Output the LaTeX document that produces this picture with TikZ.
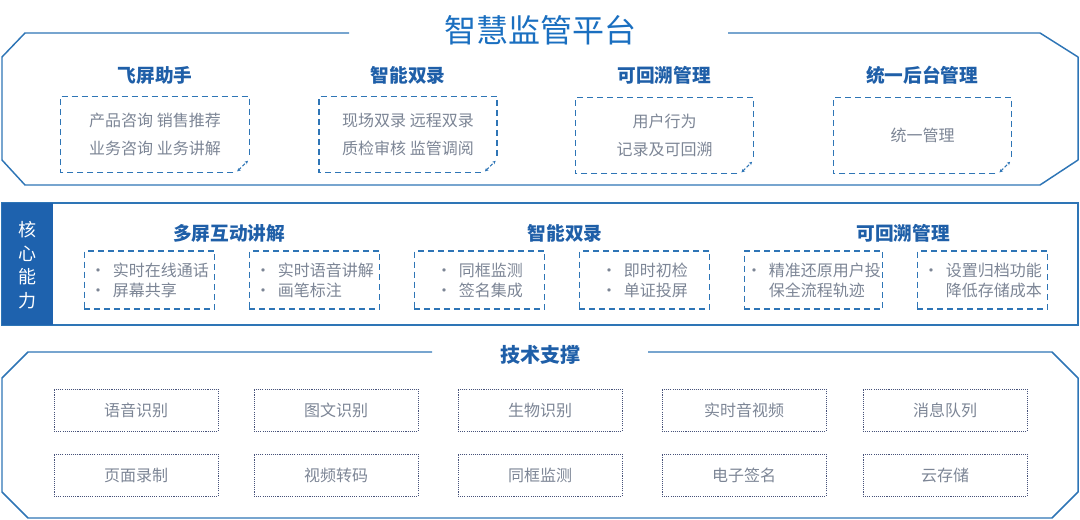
\documentclass[tikz,border=0pt]{standalone}
\usepackage{fontspec}
\setmainfont{Noto Sans CJK SC}
\usetikzlibrary{arrows.meta}

\definecolor{frameblue}{HTML}{2E75B6}
\definecolor{headblue}{HTML}{1F5FA8}
\definecolor{titleblue}{HTML}{1A6FC0}
\definecolor{textgray}{HTML}{7C8595}
\definecolor{dotnavy}{HTML}{47527A}
\definecolor{sideblue}{HTML}{1E62AE}

\newcommand{\blt}{\makebox[17pt][l]{\textbullet}}
\newcommand{\bltgap}{\makebox[17pt][l]{}}

\tikzset{
  frameline/.style={draw=frameblue, line width=1.1pt, line join=round},
  bigtitle/.style={text=titleblue, font=\fontsize{24}{26}\selectfont},
  heading/.style={text=headblue, font=\fontsize{14}{16}\selectfont\bfseries},
  topbox/.style={minimum width=133pt, minimum height=57pt, inner sep=0pt,
    text=textgray, align=center, font=\fontsize{12}{21}\selectfont},
  dashline/.style={draw=frameblue, line width=0.9pt, dash pattern=on 4.5pt off 3pt},
  foldmark/.style={draw=frameblue, line width=0.8pt, dash pattern=on 2.5pt off 1.5pt,
    {Stealth[length=2.5pt,width=2.5pt]}-{Stealth[length=2.5pt,width=2.5pt]}},
  midbox/.style={dashline, minimum width=98pt, minimum height=43.5pt, inner sep=0pt,
    text=textgray, align=left, font=\fontsize{12}{15}\selectfont},
  sidetext/.style={text=white, align=center, font=\fontsize{13.5}{17.6}\selectfont},
  techbox/.style={draw=dotnavy, line width=0.7pt, dash pattern=on 0.8pt off 0.8pt,
    minimum width=123pt, minimum height=31.5pt, inner sep=0pt,
    text=textgray, font=\fontsize{12}{14}\selectfont},
}

\begin{document}
\begin{tikzpicture}[x=0.75pt, y=-0.75pt]
    \useasboundingbox (0,0) rectangle (1080,520);

    % platform frame
    \node[bigtitle] (title) at (540,30) {智慧监管平台};
    \coordinate (tl) at (349,33);
    \coordinate (tr) at (728,33);
    \draw[frameline] (tl) -- (25,33) -- (2,57) -- (2,160) -- (25,185) -- (1040,185)
        -- (1078,160) -- (1078,57) -- (1040,33) -- (tr);

    \node[heading] (h1) at (155,75) {飞屏助手};
    \node[heading] (h2) at (408,75) {智能双录};
    \node[heading] (h3) at (664,75) {可回溯管理};
    \node[heading] (h4) at (922,75) {统一后台管理};

    \node[topbox, minimum width=141pt] (fp) at (155,134.5) {产品咨询 销售推荐\\业务咨询 业务讲解};
    \node[topbox] (zs) at (408,134.5) {现场双录 远程双录\\质检审核 监管调阅};
    \node[topbox] (kh) at (664.5,135.5) {用户行为\\记录及可回溯};
    \node[topbox] (ty) at (922.5,135.5) {统一管理};
    \foreach \b in {fp,zs,kh,ty}{
        \draw[dashline] ([xshift=-12pt]\b.south east) -- (\b.south west) -- (\b.north west)
            -- (\b.north east) -- ([yshift=11pt]\b.south east);
        \draw[foldmark] ([xshift=-9pt,yshift=1pt]\b.south east) -- ([xshift=-1pt,yshift=9pt]\b.south east);
    }

    % core abilities
    \draw[frameline, line join=miter] (2,203) rectangle (1078,325);
    \fill[sideblue] (2,203) rectangle (53,325);
    \node[sidetext] (side) at (27.5,265) {核\\心\\能\\力};

    \node[heading] (m1) at (229,233) {多屏互动讲解};
    \node[heading] (m2) at (565,233) {智能双录};
    \node[heading] (m3) at (903,233) {可回溯管理};

    \node[midbox] (c1) at (149.5,280) {\blt 实时在线通话\\\blt 屏幕共享};
    \node[midbox] (c2) at (314.5,280) {\blt 实时语音讲解\\\blt 画笔标注};
    \node[midbox] (c3) at (479.5,280) {\blt 同框监测\\\blt 签名集成};
    \node[midbox] (c4) at (644.5,280) {\blt 即时初检\\\blt 单证投屏};
    \node[midbox, minimum width=104pt] (c5) at (813.5,280) {\blt 精准还原用户投\\\bltgap 保全流程轨迹};
    \node[midbox] (c6) at (982.5,280) {\blt 设置归档功能\\\bltgap 降低存储成本};

    % tech support
    \node[heading, font=\fontsize{15}{17}\selectfont\bfseries] (tech) at (540,355) {技术支撑};
    \coordinate (bl) at (432,352);
    \coordinate (br) at (648,352);
    \draw[frameline] (bl) -- (28,352) -- (2,378) -- (2,492) -- (28,518) -- (1052,518)
        -- (1078,492) -- (1078,378) -- (1052,352) -- (br);

    \node[techbox] (t1) at (136,410) {语音识别};
    \node[techbox] (t2) at (336,410) {图文识别};
    \node[techbox] (t3) at (540,410) {生物识别};
    \node[techbox] (t4) at (744,410) {实时音视频};
    \node[techbox] (t5) at (945,410) {消息队列};
    \node[techbox] (t6) at (136,475) {页面录制};
    \node[techbox] (t7) at (336,475) {视频转码};
    \node[techbox] (t8) at (540,475) {同框监测};
    \node[techbox] (t9) at (744,475) {电子签名};
    \node[techbox] (t10) at (945,475) {云存储};

\end{tikzpicture}
\end{document}
